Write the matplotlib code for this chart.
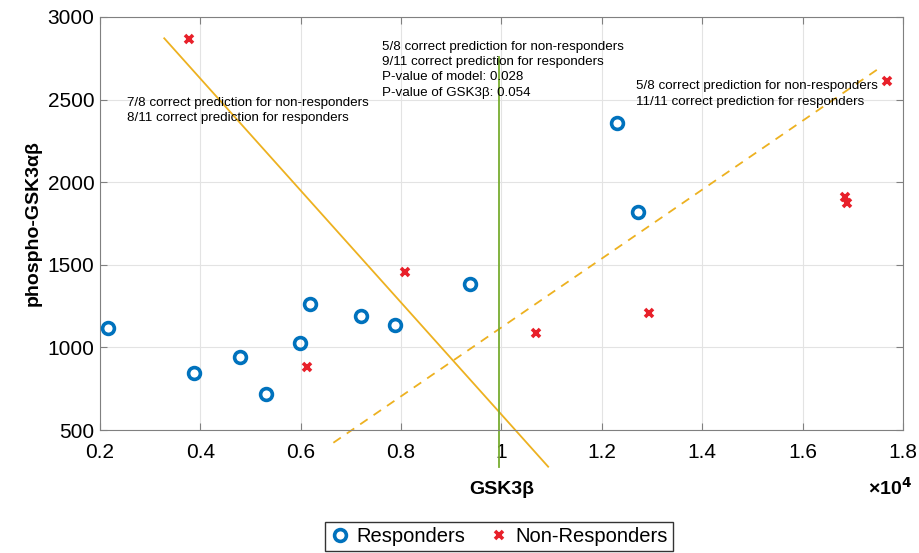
import numpy as np
import matplotlib
matplotlib.use('Agg')
import matplotlib.pyplot as plt

plt.rcParams['font.family'] = ['Liberation Sans', 'DejaVu Sans']

# values in units of 1e4 for GSK3b
resp_x = [0.216, 0.387, 0.479, 0.531, 0.598, 0.618, 0.720, 0.788, 0.937, 1.231, 1.272]
resp_y = [1117, 845, 940, 718, 1027, 1263, 1190, 1136, 1384, 2360, 1820]
nonresp_x = [0.377, 0.808, 0.613, 1.069, 1.294, 1.684, 1.689, 1.768]
nonresp_y = [2867, 1456, 883, 1089, 1210, 1912, 1872, 2615]

solid_x = [0.328, 1.093]
solid_y = [2871, 278]
dashed_x = [0.665, 1.757]
dashed_y = [423, 2699]
green_x = [0.995, 0.995]
green_y = [2758, 278]

xticks = [0.2, 0.4, 0.6, 0.8, 1.0, 1.2, 1.4, 1.6, 1.8]
xtick_labels = ['0.2', '0.4', '0.6', '0.8', '1', '1.2', '1.4', '1.6', '1.8']
yticks = [500, 1000, 1500, 2000, 2500, 3000]

text_left = '7/8 correct prediction for non-responders\n8/11 correct prediction for responders'
text_mid = ('5/8 correct prediction for non-responders\n9/11 correct prediction for responders\n'
            'P-value of model: 0.028\nP-value of GSK3β: 0.054')
text_right = '5/8 correct prediction for non-responders\n11/11 correct prediction for responders'

fig = plt.figure(figsize=(9.2, 5.53), dpi=100)
ax = fig.add_axes([0.1087, 0.2224, 0.8728, 0.7469])

orange = '#EDB120'
ax.plot(solid_x, solid_y, color=orange, lw=1.3, clip_on=False, zorder=2)
ax.plot(dashed_x, dashed_y, color=orange, lw=1.3, ls=(0, (5, 4)), clip_on=False, zorder=2)
ax.plot(green_x, green_y, color='#77AC30', lw=1.3, clip_on=False, zorder=2)

ax.plot(resp_x, resp_y, 'o', mfc='none', mec='#0072BD', mew=2.6, ms=8.5,
        ls='none', label='Responders', zorder=3)
ax.plot(nonresp_x, nonresp_y, 'x', color='#E8202A', mew=2.6, ms=5.5,
        ls='none', label='Non-Responders', zorder=3)

ax.text(0.254, 2435, text_left, fontsize=9.6, va='center', ha='left', linespacing=1.4)
ax.text(0.762, 2680, text_mid, fontsize=9.6, va='center', ha='left', linespacing=1.35)
ax.text(1.268, 2535, text_right, fontsize=9.6, va='center', ha='left', linespacing=1.4)

ax.set_xlim(0.2, 1.8)
ax.set_ylim(500, 3000)
ax.set_xticks(xticks)
ax.set_xticklabels(xtick_labels)
ax.set_yticks(yticks)
ax.grid(True, color='#e3e3e3', lw=0.8)
ax.set_axisbelow(True)
ax.tick_params(direction='in', top=True, right=True, labelsize=15, length=5,
               color='#808080', pad=4)
ax.tick_params(axis='x', pad=9)
for s in ax.spines.values():
    s.set_color('#808080')

ax.set_xlabel('GSK3β', fontsize=14, fontweight='bold', labelpad=14)
ax.set_ylabel('phospho-GSK3αβ', fontsize=14, fontweight='bold', labelpad=4)
fig.text(0.967, 0.118, '×10$^{\\mathbf{4}}$', fontsize=14, fontweight='bold', ha='center', va='center')

leg = ax.legend(loc='upper center', bbox_to_anchor=(0.497, -0.198), ncol=2, fontsize=14.5,
                frameon=True, fancybox=False, edgecolor='black', handletextpad=0.3,
                columnspacing=1.2, borderpad=0.25, handlelength=1.0)
leg.get_frame().set_linewidth(1.0)

fig.savefig('out.png', dpi=100)
